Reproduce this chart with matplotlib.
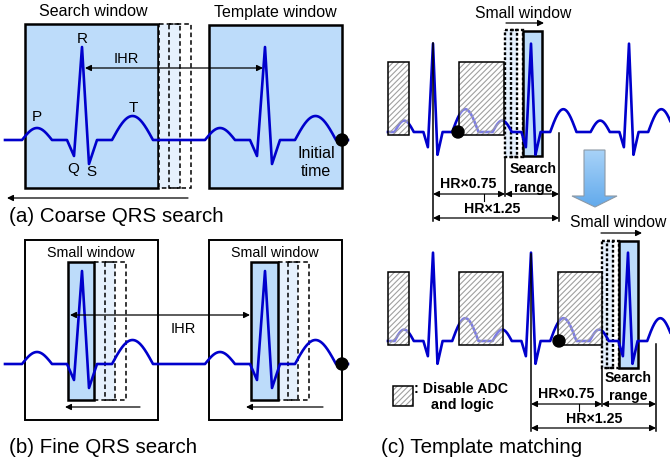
import numpy as np
import matplotlib
matplotlib.use("Agg")
import matplotlib.pyplot as plt
from matplotlib.patches import Rectangle, Polygon, Circle
from matplotlib.colors import LinearSegmentedColormap

plt.rcParams['font.family'] = ['Liberation Sans', 'DejaVu Sans']
plt.rcParams['hatch.linewidth'] = 0.8

# ---------------- data ----------------
# ECG beat template, relative to the R peak (time offsets, amplitude up)
QRS_T = [-15, -8, 0, 7, 15]
QRS_A = [0, -16, 93, -24, 0]
P_WAVE = [-60, -30, 12]     # start, end, height
T_WAVE = [30, 71, 24]

# R-peak positions / baselines for each trace
A_R = [82, 265]; A_BASE = 141; A_SPAN = [5, 348]
B_R = [82, 265]; B_BASE = 365; B_SPAN = [5, 348]
C_SCALE = [0.64, 0.95]
CT_R = [433, 531, 629]; CT_BASE = 133; CT_SPAN = [388, 672]
CB_R = [433, 531, 628]; CB_BASE = 342; CB_SPAN = [388, 672]

TITLES = ["(a) Coarse QRS search", "(b) Fine QRS search", "(c) Template matching"]

ECG_C = '#0000CC'
BLUE_FILL = '#BDDCFA'
LIGHT_FILL = '#E6F1FD'

fig = plt.figure(figsize=(6.7, 4.64), dpi=100)
ax = fig.add_axes([0, 0, 1, 1])
ax.axis('off')


def ecg(rs, base, span, sx=1.0, sy=1.0):
    keys = []
    for r in rs:
        keys += [r + sx * t for t in QRS_T]
        keys += [r + sx * P_WAVE[0], r + sx * P_WAVE[1], r + sx * T_WAVE[0], r + sx * T_WAVE[1]]
    keys = [k for k in keys if span[0] <= k <= span[1]]
    x = np.union1d(np.arange(span[0], span[1] + 0.01, 0.25), keys)
    y = np.zeros_like(x)
    for r in rs:
        y += np.interp(x, [r + sx * t for t in QRS_T], [sy * a for a in QRS_A], left=0, right=0)
        for (t0, t1, h) in (P_WAVE, T_WAVE):
            a, b = r + sx * t0, r + sx * t1
            m = (x >= a) & (x <= b)
            y[m] += sy * h * np.sin(np.pi * (x[m] - a) / (b - a))
    return x, base - y


def rect(x0, x1, y0, y1, **kw):
    ax.add_patch(Rectangle((x0, y0), x1 - x0, y1 - y0, **kw))


def dashed(x0, x1, y0, y1, fill=None, lw=1.1, dash=(3, 2), z=2):
    rect(x0, x1, y0, y1, fc=fill if fill else 'none', ec='black', lw=lw,
         ls=(0, dash), zorder=z)


def hatched(x0, x1, y0, y1):
    rect(x0, x1, y0, y1, fc=(1, 1, 1, 0.5), ec='#A0A0A0', lw=0, hatch='//////', zorder=4)
    rect(x0, x1, y0, y1, fc='none', ec='black', lw=1.1, zorder=4.5)


def arrow(x0, y0, x1, y1, style='<|-|>', lw=0.9, ms=9):
    ax.annotate('', xy=(x1, y1), xytext=(x0, y0),
                arrowprops=dict(arrowstyle=style, lw=lw, color='black',
                                mutation_scale=ms, shrinkA=0, shrinkB=0), zorder=7)


def txt(x, y, s, size=11.5, **kw):
    kw.setdefault('ha', 'center')
    ax.text(x, y, s, fontsize=size, va='center', zorder=8, **kw)


def dot(x, y, r=6):
    ax.add_patch(Circle((x, y), r, fc='black', ec='black', zorder=6))


# ---------------- (a) coarse QRS search ----------------
rect(25, 158, 25, 189, fc=BLUE_FILL, ec='black', lw=1.8, zorder=1)
rect(209, 342, 26, 189, fc=BLUE_FILL, ec='black', lw=1.8, zorder=1)
dashed(159, 180, 25, 189, fill=LIGHT_FILL)
dashed(169, 191, 25, 189)
x, y = ecg(A_R, A_BASE, A_SPAN)
ax.plot(x, y, color=ECG_C, lw=1.9, zorder=3)
dot(342, 141)
arrow(85, 69, 263, 69)
arrow(188, 199, 7, 199, style='-|>')
txt(93, 12, "Search window")
txt(275, 12, "Template window")
txt(82, 39, "R", 11)
txt(37, 117, "P", 11)
txt(133, 108, "T", 11)
txt(73, 169, "Q", 11)
txt(91, 172, "S", 11)
txt(126, 59, "IHR", 10.5)
txt(316, 154, "Initial", 11.5)
txt(316, 172, "time", 11.5)
txt(9, 217, TITLES[0], 14.8, ha='left')

# ---------------- (b) fine QRS search ----------------
rect(25, 158, 241, 421, fc='white', ec='black', lw=1.4, zorder=1)
rect(209, 342, 241, 421, fc='white', ec='black', lw=1.4, zorder=1)
for (bx0, d1, d2, d3) in [(68, 94, 105, 115), (251, 278, 288, 298)]:
    dashed(d1, d3, 263, 401, fill=LIGHT_FILL)
    dashed(d2, d3 + 11, 263, 401)
    rect(bx0, d1, 263, 401, fc=BLUE_FILL, ec='black', lw=1.8, zorder=2.5)
x, y = ecg(B_R, B_BASE, B_SPAN)
ax.plot(x, y, color=ECG_C, lw=1.9, zorder=3)
dot(342, 365)
arrow(70, 316, 250, 316)
arrow(140, 408, 65, 408, style='-|>')
arrow(323, 408, 246, 408, style='-|>')
txt(91, 253, "Small window", 10.3)
txt(275, 253, "Small window", 10.3)
txt(183, 329, "IHR", 10.5)
txt(9, 448, TITLES[1], 14.8, ha='left')

# ---------------- (c) template matching ----------------
# top trace
hatched(388, 409, 63, 136)
hatched(459, 504, 63, 136)
dashed(505, 517, 31, 158, fill=LIGHT_FILL, lw=1.7, dash=(1.2, 0.9))
dashed(511, 523, 31, 158, lw=1.7, dash=(1.2, 0.9))
rect(523, 542, 32, 157, fc=BLUE_FILL, ec='black', lw=1.8, zorder=2.5)
x, y = ecg(CT_R, CT_BASE, CT_SPAN, *C_SCALE)
ax.plot(x, y, color=ECG_C, lw=1.9, zorder=3)
dot(458, 133)
ax.plot([433, 433], [44, 222], color='black', lw=1.1, zorder=5)
ax.plot([505, 505], [158, 197], color='black', lw=1.1, zorder=5)
ax.plot([559, 559], [134, 222], color='black', lw=1.1, zorder=5)
ax.plot([484, 484], [195, 202], color='black', lw=0.8, zorder=5)
arrow(433, 195, 505, 195)
arrow(505, 195, 559, 195)
arrow(433, 219, 559, 219)
txt(468, 184, "HR\u00d70.75", 10.2, weight='bold')
txt(492, 209, "HR\u00d71.25", 10.2, weight='bold')
txt(533, 169, "Search", 10.2, weight='bold')
txt(533, 188, "range", 10.2, weight='bold')
txt(523, 14, "Small window", 11.3)
arrow(506, 24, 544, 24, style='-|>')

# bottom trace
hatched(388, 409, 273, 346)
hatched(459, 503, 273, 346)
hatched(558, 602, 273, 346)
dashed(602, 613, 242, 369, fill=LIGHT_FILL, lw=1.7, dash=(1.2, 0.9))
dashed(607, 619, 242, 369, lw=1.7, dash=(1.2, 0.9))
rect(619, 638, 242, 369, fc=BLUE_FILL, ec='black', lw=1.8, zorder=2.5)
x, y = ecg(CB_R, CB_BASE, CB_SPAN, *C_SCALE)
ax.plot(x, y, color=ECG_C, lw=1.9, zorder=3)
dot(559, 342)
ax.plot([531, 531], [255, 432], color='black', lw=1.1, zorder=5)
ax.plot([602, 602], [369, 407], color='black', lw=1.1, zorder=5)
ax.plot([656, 656], [345, 432], color='black', lw=1.1, zorder=5)
ax.plot([579, 579], [405, 412], color='black', lw=0.8, zorder=5)
arrow(531, 405, 602, 405)
arrow(602, 405, 656, 405)
arrow(531, 429, 656, 429)
txt(566, 394, "HR\u00d70.75", 10.2, weight='bold')
txt(594, 419, "HR\u00d71.25", 10.2, weight='bold')
txt(628, 378, "Search", 10.2, weight='bold')
txt(628, 396, "range", 10.2, weight='bold')
txt(618, 223, "Small window", 11.3)
arrow(601, 234, 642, 234, style='-|>')

# big down arrow with gradient
pts = [(584, 151), (605, 151), (605, 197), (617, 197), (595, 208), (572, 197), (584, 197)]
poly = Polygon(pts, closed=True, fc='none', ec='#8C99A6', lw=0.8, zorder=6)
ax.add_patch(poly)
grad = np.linspace(0, 1, 100).reshape(-1, 1)
cmap = LinearSegmentedColormap.from_list('g', ['#A9D3F8', '#62AAEC'])
im = ax.imshow(grad, extent=(572, 617, 208, 151), cmap=cmap, aspect='auto', zorder=5.5)
im.set_clip_path(poly)

# legend
hatched(393, 413, 387, 407)
txt(414, 389, ": Disable ADC", 10.3, weight='bold', ha='left')
txt(462, 405, "and logic", 10.3, weight='bold')
txt(381, 448, TITLES[2], 14.8, ha='left')

ax.set_xlim(0, 670)
ax.set_ylim(464, 0)
fig.savefig("out.png", dpi=100)
